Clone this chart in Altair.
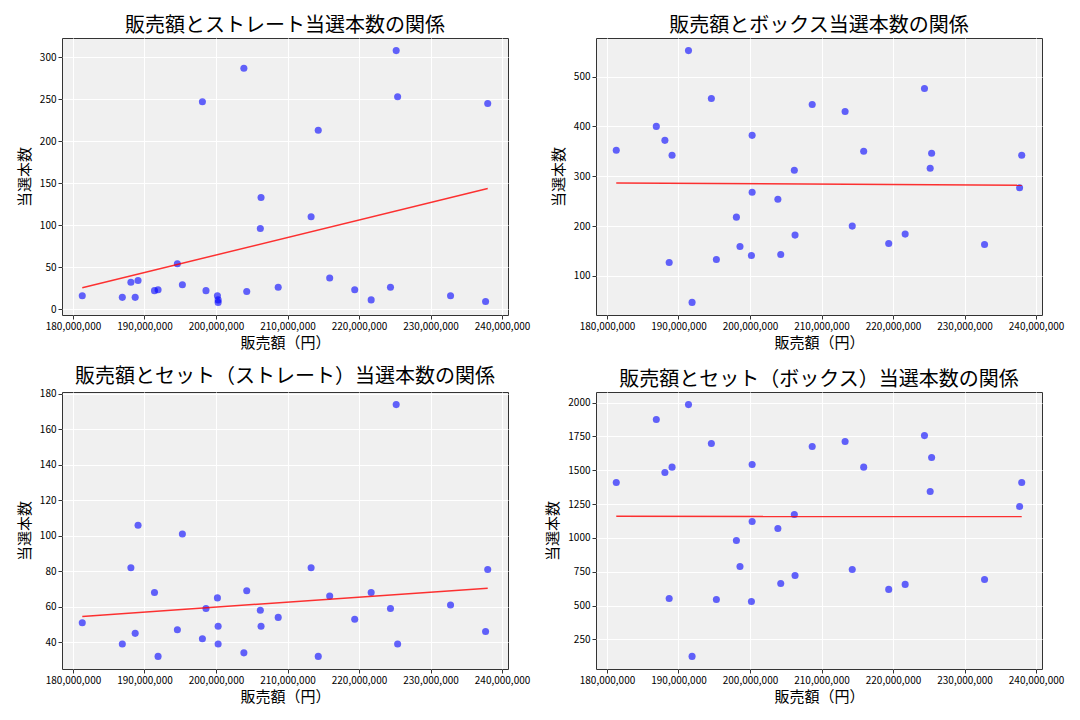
import altair as alt
import pandas as pd

# 販売額（百万円単位で読み取り）
sales_million = [181.3, 186.9, 188.1, 188.7, 189.1, 191.4, 191.9, 194.6, 195.3, 198.1,
                 198.6, 200.2, 200.3, 200.3, 203.9, 204.3, 206.2, 206.3, 208.7, 213.3,
                 214.3, 215.9, 219.4, 221.7, 224.4, 225.2, 225.4, 232.8, 237.7, 238.0]
straight = [16, 14, 32, 14, 34, 22, 23, 54, 29, 247, 22, 16, 11, 8, 287, 21, 96, 133, 26, 110,
            213, 37, 23, 11, 26, 308, 253, 16, 9, 245]
box = [352, 400, 372, 127, 342, 552, 47, 456, 133, 218, 159, 141, 382, 268, 254, 143, 312, 182,
       444, 430, 200, 350, 165, 184, 476, 316, 346, 163, 277, 342]
set_straight = [51, 39, 82, 45, 106, 68, 32, 47, 101, 42, 59, 65, 49, 39, 34, 69, 58, 49, 54, 82,
                32, 66, 53, 68, 59, 174, 39, 61, 46, 81]
set_box = [1410, 1875, 1483, 553, 1523, 1985, 125, 1697, 546, 981, 789, 531, 1542, 1122, 1070,
           664, 1173, 723, 1675, 1712, 767, 1523, 620, 657, 1756, 1343, 1594, 693, 1232, 1410]

titles = ["販売額とストレート当選本数の関係", "販売額とボックス当選本数の関係",
          "販売額とセット（ストレート）当選本数の関係", "販売額とセット（ボックス）当選本数の関係"]
x_ticks = [180000000, 190000000, 200000000, 210000000, 220000000, 230000000, 240000000]
y_ticks = [[0, 50, 100, 150, 200, 250, 300],
           [100, 200, 300, 400, 500],
           [40, 60, 80, 100, 120, 140, 160, 180],
           [250, 500, 750, 1000, 1250, 1500, 1750, 2000]]

sales = [round(v * 1_000_000) for v in sales_million]
df = pd.DataFrame({"sales": sales, "straight": straight, "box": box,
                   "set_straight": set_straight, "set_box": set_box})

FONT = "Noto Sans CJK JP"


def padded(vals):
    lo, hi = min(vals), max(vals)
    m = (hi - lo) * 0.05
    return [lo - m, hi + m]


x_dom = padded(sales)


def panel(col, title, yt):
    xenc = alt.X("sales:Q", scale=alt.Scale(domain=x_dom, nice=False, zero=False),
                 axis=alt.Axis(values=x_ticks, tickCount=20, format=",d", title="販売額（円）",
                               labelOverlap=False, titlePadding=4))
    yenc = alt.Y(f"{col}:Q", scale=alt.Scale(domain=padded(df[col].tolist()), nice=False, zero=False),
                 axis=alt.Axis(values=yt, tickCount=20, format="d", title="当選本数",
                               labelOverlap=False, titlePadding=7))
    pts = alt.Chart(df).mark_circle(size=50, color="blue", opacity=0.6).encode(x=xenc, y=yenc)
    line = (alt.Chart(df).transform_regression("sales", col)
            .mark_line(color="red", opacity=0.8, strokeWidth=1.5)
            .encode(x=alt.X("sales:Q"), y=alt.Y(f"{col}:Q")))
    return alt.layer(pts, line).properties(
        width=446, height=277,
        title=alt.TitleParams(title, fontSize=20, font=FONT, fontWeight="normal",
                              anchor="middle", offset=2, color="black"))


cols = ["straight", "box", "set_straight", "set_box"]
panels = [panel(c, t, yt) for c, t, yt in zip(cols, titles, y_ticks)]

chart = alt.concat(*panels, columns=2, spacing={"row": 15, "column": 14}).properties(
    align="each",
    background="white",
    padding={"left": 8, "top": 7, "right": 5, "bottom": 5},
).configure_view(
    fill="#F0F0F0", stroke="#333333", strokeWidth=1
).configure_axis(
    domain=False, grid=True, gridColor="white", gridWidth=1,
    tickColor="#333333", tickSize=4, labelPadding=2,
    labelFont=FONT, labelFontSize=10, labelColor="black",
    titleFont=FONT, titleFontSize=15, titleFontWeight="normal", titleColor="black"
)

chart.save("out.html", embed_options={"renderer": "svg", "actions": False})
